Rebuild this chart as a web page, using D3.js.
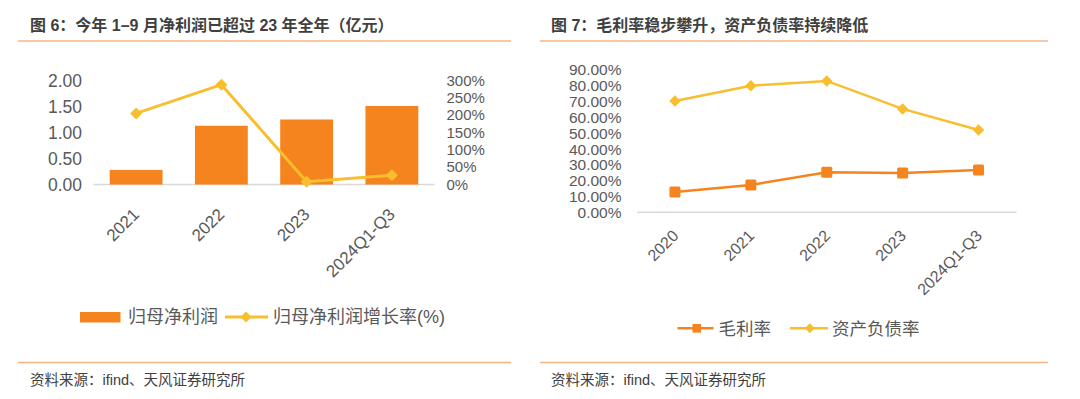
<!DOCTYPE html>
<meta charset="utf-8">
<style>
body { margin: 0; background: #fff; }
svg { display: block; font-family: "Liberation Sans", Arial, "Noto Sans CJK SC", sans-serif; }
.title { font-size: 16px; font-weight: bold; fill: #404040; }
.src { font-size: 14.5px; fill: #404040; }
.rule { stroke: #F6B485; stroke-width: 1.6px; }
.axis text { fill: #595959; }
.axis path { display: none; }
.base { stroke: #D9D9D9; stroke-width: 1.5px; }
.legend text { fill: #595959; }
</style>
<svg width="1080" height="399"></svg>
<script src="https://cdn.jsdelivr.net/npm/d3@7"></script>
<script>
// 图6 data
var leftCats = ["2021", "2022", "2023", "2024Q1-Q3"];
var netProfit = [0.28, 1.13, 1.25, 1.51];      // 亿元
var profitGrowth = [205, 288, 8, 27];          // %
var leftTicks = [0, 0.5, 1, 1.5, 2];
var growthTicks = [0, 50, 100, 150, 200, 250, 300];

// 图7 data
var rightCats = ["2020", "2021", "2022", "2023", "2024Q1-Q3"];
var grossMargin = [12.8, 17.3, 25.3, 24.9, 26.8];
var debtRatio = [70.4, 80.1, 83.1, 65.4, 52.1];
var pctTicks = [0, 10, 20, 30, 40, 50, 60, 70, 80, 90];

var orange = "#F5841F", yellow = "#F8BE2E";
var svg = d3.select("svg");

// titles, rules, sources
svg.append("text").attr("class", "title").attr("x", 30).attr("y", 31)
    .text("图 6：今年 1–9 月净利润已超过 23 年全年（亿元）");
svg.append("text").attr("class", "title").attr("x", 551).attr("y", 31)
    .text("图 7：毛利率稳步攀升，资产负债率持续降低");
[[18, 511], [540, 1048]].forEach(function(r) {
  svg.append("line").attr("class", "rule").attr("x1", r[0]).attr("x2", r[1]).attr("y1", 41).attr("y2", 41);
  svg.append("line").attr("class", "rule").attr("x1", r[0]).attr("x2", r[1]).attr("y1", 362.5).attr("y2", 362.5);
});
svg.append("text").attr("class", "src").attr("x", 30).attr("y", 385).text("资料来源：ifind、天风证券研究所");
svg.append("text").attr("class", "src").attr("x", 551).attr("y", 385).text("资料来源：ifind、天风证券研究所");

// ---------- 图6 ----------
var x1 = d3.scaleBand().domain(leftCats).range([93.5, 434.5]).paddingInner(0.38).paddingOuter(0.19);
var yL = d3.scaleLinear().domain([0, 2]).range([184.5, 80.5]);
var yR = d3.scaleLinear().domain([0, 300]).range([184.5, 80.5]);

var gl = svg.append("g").attr("class", "axis").attr("transform", "translate(82,0)")
    .call(d3.axisLeft(yL).tickValues(leftTicks).tickSize(0).tickPadding(0).tickFormat(d3.format(".2f")));
gl.selectAll("text").style("font-size", "17.5px");
var gr = svg.append("g").attr("class", "axis").attr("transform", "translate(446.5,0)")
    .call(d3.axisRight(yR).tickValues(growthTicks).tickSize(0).tickPadding(0).tickFormat(function(d) { return d + "%"; }));
gr.selectAll("text").style("font-size", "15px");

svg.append("line").attr("class", "base").attr("x1", 93.5).attr("x2", 434.5).attr("y1", yL(0)).attr("y2", yL(0));

svg.append("g").selectAll("rect").data(netProfit).enter().append("rect")
    .attr("x", function(d, i) { return x1(leftCats[i]); })
    .attr("width", x1.bandwidth())
    .attr("y", function(d) { return yL(d); })
    .attr("height", function(d) { return yL(0) - yL(d); })
    .attr("fill", orange);

var cx1 = function(i) { return x1(leftCats[i]) + x1.bandwidth() / 2; };
svg.append("path").datum(profitGrowth)
    .attr("fill", "none").attr("stroke", yellow).attr("stroke-width", 3)
    .attr("d", d3.line().x(function(d, i) { return cx1(i); }).y(function(d) { return yR(d); }));
svg.append("g").selectAll("path").data(profitGrowth).enter().append("path")
    .attr("d", d3.symbol(d3.symbolSquare, 72))
    .attr("transform", function(d, i) { return "translate(" + cx1(i) + "," + yR(d) + ") rotate(45)"; })
    .attr("fill", yellow);

svg.append("g").attr("class", "axis").selectAll("text").data(leftCats).enter().append("text")
    .attr("transform", function(d, i) { return "translate(" + (cx1(i) + 4) + "," + (yL(0) + 31) + ") rotate(-45)"; })
    .attr("text-anchor", "end").style("font-size", "17px").text(function(d) { return d; });

var lg1 = svg.append("g").attr("class", "legend");
lg1.append("rect").attr("x", 80).attr("y", 312).attr("width", 40.5).attr("height", 10.5).attr("fill", orange);
lg1.append("text").attr("x", 128).attr("y", 317).attr("dy", "0.36em").style("font-size", "18px").text("归母净利润");
lg1.append("line").attr("x1", 225).attr("x2", 268).attr("y1", 317).attr("y2", 317).attr("stroke", yellow).attr("stroke-width", 3);
lg1.append("path").attr("d", d3.symbol(d3.symbolSquare, 60)).attr("transform", "translate(246,317) rotate(45)").attr("fill", yellow);
lg1.append("text").attr("x", 273).attr("y", 317).attr("dy", "0.36em").style("font-size", "18px").text("归母净利润增长率(%)");

// ---------- 图7 ----------
var x2 = d3.scalePoint().domain(rightCats).range([637, 1016.5]).padding(0.5);
var yP = d3.scaleLinear().domain([0, 90]).range([212.3, 70]);

var gp = svg.append("g").attr("class", "axis").attr("transform", "translate(621.5,0)")
    .call(d3.axisLeft(yP).tickValues(pctTicks).tickSize(0).tickPadding(0).tickFormat(function(d) { return d.toFixed(2) + "%"; }));
gp.selectAll("text").style("font-size", "15.5px");

svg.append("line").attr("class", "base").attr("x1", 637).attr("x2", 1016.5).attr("y1", yP(0)).attr("y2", yP(0));

var line2 = d3.line().x(function(d, i) { return x2(rightCats[i]); }).y(function(d) { return yP(d); });
svg.append("path").datum(grossMargin).attr("fill", "none").attr("stroke", orange).attr("stroke-width", 2.5).attr("d", line2);
svg.append("path").datum(debtRatio).attr("fill", "none").attr("stroke", yellow).attr("stroke-width", 2.5).attr("d", line2);

svg.append("g").selectAll("rect").data(grossMargin).enter().append("rect")
    .attr("x", function(d, i) { return x2(rightCats[i]) - 5.5; })
    .attr("y", function(d) { return yP(d) - 5.5; })
    .attr("width", 11).attr("height", 11).attr("rx", 1.5)
    .attr("fill", orange);
svg.append("g").selectAll("path").data(debtRatio).enter().append("path")
    .attr("d", d3.symbol(d3.symbolSquare, 66))
    .attr("transform", function(d, i) { return "translate(" + x2(rightCats[i]) + "," + yP(d) + ") rotate(45)"; })
    .attr("fill", yellow);

svg.append("g").attr("class", "axis").selectAll("text").data(rightCats).enter().append("text")
    .attr("transform", function(d) { return "translate(" + (x2(d) + 4.5) + "," + (yP(0) + 24.5) + ") rotate(-45)"; })
    .attr("text-anchor", "end").style("font-size", "16px").text(function(d) { return d; });

var lg2 = svg.append("g").attr("class", "legend");
lg2.append("line").attr("x1", 677.5).attr("x2", 713.5).attr("y1", 328.3).attr("y2", 328.3).attr("stroke", orange).attr("stroke-width", 2.5);
lg2.append("rect").attr("x", 692.5).attr("y", 324).attr("width", 8.6).attr("height", 8.6).attr("fill", orange);
lg2.append("text").attr("x", 718.5).attr("y", 328.3).attr("dy", "0.36em").style("font-size", "17.5px").text("毛利率");
lg2.append("line").attr("x1", 790).attr("x2", 828).attr("y1", 328.3).attr("y2", 328.3).attr("stroke", yellow).attr("stroke-width", 2.5);
lg2.append("path").attr("d", d3.symbol(d3.symbolSquare, 50)).attr("transform", "translate(809.8,328.3) rotate(45)").attr("fill", yellow);
lg2.append("text").attr("x", 832).attr("y", 328.3).attr("dy", "0.36em").style("font-size", "17.5px").text("资产负债率");
</script>
